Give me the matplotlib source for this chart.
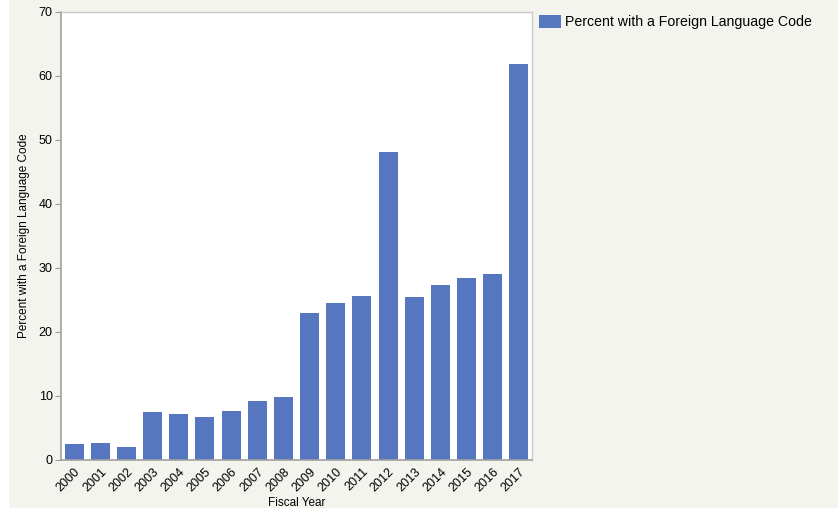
import matplotlib
matplotlib.use("Agg")
import matplotlib.pyplot as plt
from matplotlib.patches import Rectangle, Patch

plt.rcParams['font.family'] = ['Liberation Sans', 'DejaVu Sans']

years = [str(y) for y in range(2000, 2018)]
percent = [2.5, 2.6, 2.1, 7.5, 7.2, 6.7, 7.6, 9.2, 9.8,
           22.9, 24.5, 25.6, 48.2, 25.4, 27.3, 28.4, 29.1, 61.8]
series_name = 'Percent with a Foreign Language Code'

bg = '#f4f4ef'
bar_color = '#5677c0'

fig = plt.figure(figsize=(8.38, 5.09), dpi=100)
fig.patch.set_facecolor('white')
# beige panel behind everything
fig.patches.append(Rectangle((9 / 838, 1 / 509), 1 - 9 / 838, 1 - 1 / 509,
                             transform=fig.transFigure, facecolor=bg,
                             edgecolor='none', zorder=-10))

ax = fig.add_axes([61 / 838, 1 - 460 / 509, (532 - 61) / 838, (460 - 12) / 509])
ax.set_facecolor('white')

x = range(len(years))
ax.bar(x, percent, width=0.73, color=bar_color, zorder=2)

ax.set_xlim(-0.5, len(years) - 0.5)
ax.set_ylim(0, 70)
ax.set_yticks(range(0, 71, 10))
ax.set_xticks(list(x))
ax.set_xticklabels(years, rotation=45, ha='right', rotation_mode='anchor',
                   fontsize=9)
ax.tick_params(axis='x', length=0, pad=4)
ax.tick_params(axis='y', length=4, color='#999999', labelsize=9, pad=2)

for s in ['left', 'bottom']:
    ax.spines[s].set_color('#a0a0a0')
    ax.spines[s].set_linewidth(1.2)
for s in ['top', 'right']:
    ax.spines[s].set_color('#c8c8c8')
    ax.spines[s].set_linewidth(1.0)

ax.set_xlabel('Fiscal Year', fontsize=8.5, labelpad=2)
ax.set_ylabel(series_name, fontsize=8.5, labelpad=6)

leg = fig.legend(handles=[Patch(facecolor=bar_color, label=series_name)],
                 loc='upper left', bbox_to_anchor=(533 / 838, 1 - 9 / 509),
                 frameon=False, fontsize=10.2, handlelength=1.6,
                 handleheight=1.1, handletextpad=0.25, borderaxespad=0)

fig.savefig('out.png', dpi=100, facecolor=fig.get_facecolor())
